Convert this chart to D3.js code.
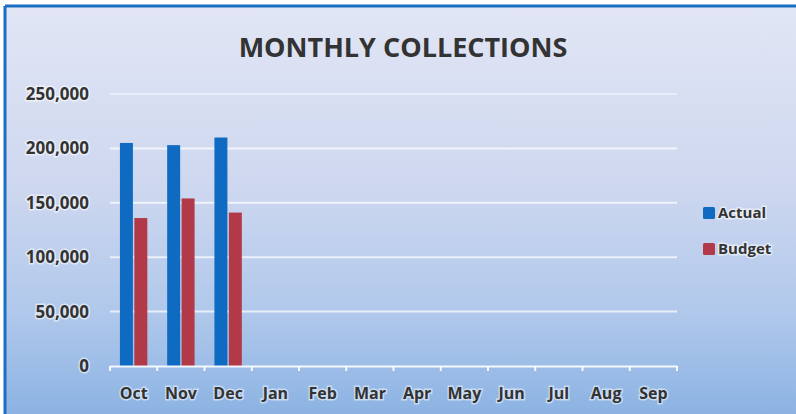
<!DOCTYPE html>
<html>
<head>
<meta charset="utf-8">
<script src="https://cdn.jsdelivr.net/npm/d3@7"></script>
<style>
  html, body { margin: 0; padding: 0; background: #ffffff; }
  svg { display: block; }
  text { font-family: "Open Sans", "Noto Sans", sans-serif; font-weight: bold; fill: #333333; }
</style>
</head>
<body>
<svg id="chart" width="796" height="414"></svg>
<script>
const categories = ["Oct", "Nov", "Dec", "Jan", "Feb", "Mar", "Apr", "May", "Jun", "Jul", "Aug", "Sep"];
const seriesNames = ["Actual", "Budget"];
const actualValues = [205000, 203000, 210000, null, null, null, null, null, null, null, null, null];
const budgetValues = [136000, 154000, 141000, null, null, null, null, null, null, null, null, null];
const yTicks = [0, 50000, 100000, 150000, 200000, 250000];
const seriesColors = ["#0f6bc2", "#b23a48"];
const title = "MONTHLY COLLECTIONS";

const svg = d3.select("#chart");
const W = 796, H = 414;

// background gradient
const defs = svg.append("defs");
const grad = defs.append("linearGradient").attr("id", "bg").attr("x1", 0).attr("y1", 0).attr("x2", 0).attr("y2", 1);
grad.append("stop").attr("offset", "0%").attr("stop-color", "#e2e6f5");
grad.append("stop").attr("offset", "45%").attr("stop-color", "#cdd7ef");
grad.append("stop").attr("offset", "75%").attr("stop-color", "#b0c8eb");
grad.append("stop").attr("offset", "100%").attr("stop-color", "#8cb3e3");

svg.append("rect").attr("x", 5).attr("y", 6).attr("width", W - 5).attr("height", H - 6).attr("fill", "url(#bg)");
// frame lines (top & left)
svg.append("line").attr("x1", 5).attr("x2", W).attr("y1", 6).attr("y2", 6).attr("stroke", "#1b6ec2").attr("stroke-width", 3);
svg.append("line").attr("x1", 5).attr("x2", 5).attr("y1", 6).attr("y2", H).attr("stroke", "#1b6ec2").attr("stroke-width", 3);

const plotLeft = 110, plotRight = 677;
const plotTop = 94, plotBottom = 366;

const x0 = d3.scaleBand().domain(categories).range([plotLeft, plotRight]).paddingInner(0).paddingOuter(0);
const bw = x0.bandwidth();
const x1 = d3.scaleBand().domain(seriesNames).range([bw * 0.21, bw * 0.79]).paddingInner(0.1);
const y = d3.scaleLinear().domain([0, 250000]).range([plotBottom, plotTop]);

// gridlines
svg.append("g").selectAll("line").data(yTicks.filter(d => d > 0)).join("line")
  .attr("x1", plotLeft).attr("x2", plotRight)
  .attr("y1", d => y(d)).attr("y2", d => y(d))
  .attr("stroke", "#ffffff").attr("stroke-opacity", d => d === 250000 ? 0.45 : 0.7).attr("stroke-width", 2);

// y axis labels
const yAxis = d3.axisLeft(y).tickValues(yTicks).tickFormat(d3.format(",")).tickSize(0).tickPadding(0);
const yg = svg.append("g").attr("transform", `translate(${plotLeft - 21},0)`).call(yAxis);
yg.select(".domain").remove();
yg.selectAll("text").style("font-size", "17px").attr("fill", "#333")
  .attr("stroke", "rgba(255,255,255,0.55)").attr("stroke-width", 3).attr("paint-order", "stroke");

// bars
const data = categories.map((c, i) => ({ cat: c, vals: [actualValues[i], budgetValues[i]] }));
const groups = svg.append("g").selectAll("g").data(data).join("g")
  .attr("transform", d => `translate(${x0(d.cat)},0)`);
groups.selectAll("rect").data(d => d.vals.map((v, j) => ({ name: seriesNames[j], v, j })).filter(e => e.v != null))
  .join("rect")
  .attr("x", e => x1(e.name))
  .attr("width", x1.bandwidth())
  .attr("y", e => y(e.v))
  .attr("height", e => y(0) - y(e.v))
  .attr("fill", e => seriesColors[e.j]);

// x axis
const xAxis = d3.axisBottom(x0).tickSize(0).tickPadding(0);
const xg = svg.append("g").attr("transform", `translate(0,${plotBottom})`).call(xAxis);
xg.select(".domain").attr("stroke", "#ffffff").attr("stroke-width", 2).attr("stroke-opacity", 0.9);
xg.selectAll("text").style("font-size", "16px").attr("fill", "#333").attr("dy", "2.05em")
  .attr("stroke", "rgba(255,255,255,0.5)").attr("stroke-width", 3).attr("paint-order", "stroke");
// category boundary tick marks
const bounds = categories.map(c => x0(c)).concat([plotRight]);
svg.append("g").selectAll("line").data(bounds).join("line")
  .attr("x1", d => d).attr("x2", d => d)
  .attr("y1", plotBottom).attr("y2", plotBottom + 5)
  .attr("stroke", "#ffffff").attr("stroke-width", 2).attr("stroke-opacity", 0.9);

// title
svg.append("text").attr("x", 403).attr("y", 57).attr("text-anchor", "middle")
  .style("font-size", "27px").attr("fill", "#3a3a3a").text(title);

// legend
const legend = svg.append("g").attr("transform", "translate(703,206)");
const li = legend.selectAll("g").data(seriesNames).join("g")
  .attr("transform", (d, i) => `translate(0,${i * 36})`);
li.append("rect").attr("x", 0).attr("y", 1).attr("width", 12).attr("height", 12).attr("rx", 1.5)
  .attr("fill", (d, i) => seriesColors[i]);
li.append("text").attr("x", 15).attr("y", 7).attr("dy", "0.35em").style("font-size", "15px")
  .attr("fill", "#333").attr("stroke", "rgba(255,255,255,0.55)").attr("stroke-width", 3).attr("paint-order", "stroke")
  .text(d => d);
</script>
</body>
</html>
